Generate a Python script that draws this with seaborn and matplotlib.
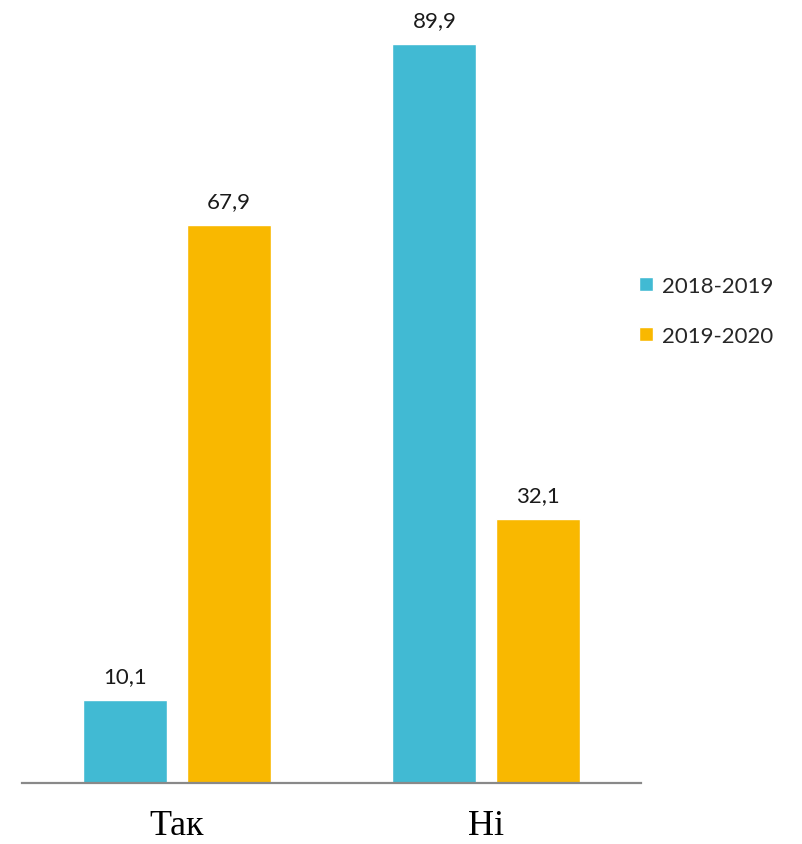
import pandas as pd
import seaborn as sns
import matplotlib.pyplot as plt

categories = ["Так", "Ні"]
series = ["2018-2019", "2019-2020"]
values_2018 = [10.1, 89.9]
values_2019 = [67.9, 32.1]

df = pd.DataFrame({
    "answer": categories * 2,
    "year": [series[0]] * 2 + [series[1]] * 2,
    "value": values_2018 + values_2019,
})

sns.set_style("white")
plt.rcParams["font.family"] = ["Lato", "DejaVu Sans"]

colors = ["#41BAD3", "#F9B800"]

fig = plt.figure(figsize=(8.02, 8.45), dpi=100)
ax = fig.add_axes([22 / 802, 1 - 784 / 845, (641 - 22) / 802, 764 / 845])

sns.barplot(data=df, x="answer", y="value", hue="year", order=categories,
            hue_order=series, palette=colors, width=0.67, gap=0.19,
            saturation=1, ax=ax, legend=True)

for cont in ax.containers:
    ax.bar_label(cont, labels=[f"{v:.1f}".replace(".", ",") for v in cont.datavalues],
                 padding=10, fontsize=16, color="#1a1a1a")

ax.set_xlim(-0.5, 1.5)
ax.set_ylim(0, 92.94)
ax.set_xlabel("")
ax.set_ylabel("")
ax.set_yticks([])
ax.tick_params(axis="x", length=0, pad=19)
for lbl in ax.get_xticklabels():
    lbl.set_fontfamily("Liberation Serif")
    lbl.set_fontsize(26)
    lbl.set_color("#000000")

for s in ["left", "right", "top"]:
    ax.spines[s].set_visible(False)
ax.spines["bottom"].set_color("#898989")
ax.spines["bottom"].set_linewidth(1.6)

handles, labels = ax.get_legend_handles_labels()
ax.get_legend().remove()
fig.legend(handles, labels, loc="upper left", bbox_to_anchor=(639 / 802, 1 - 277 / 845),
           frameon=False, fontsize=16, handlelength=0.62, handleheight=0.62,
           handletextpad=0.4, labelspacing=1.35, borderpad=0, borderaxespad=0)

fig.savefig("out.png", dpi=100)
